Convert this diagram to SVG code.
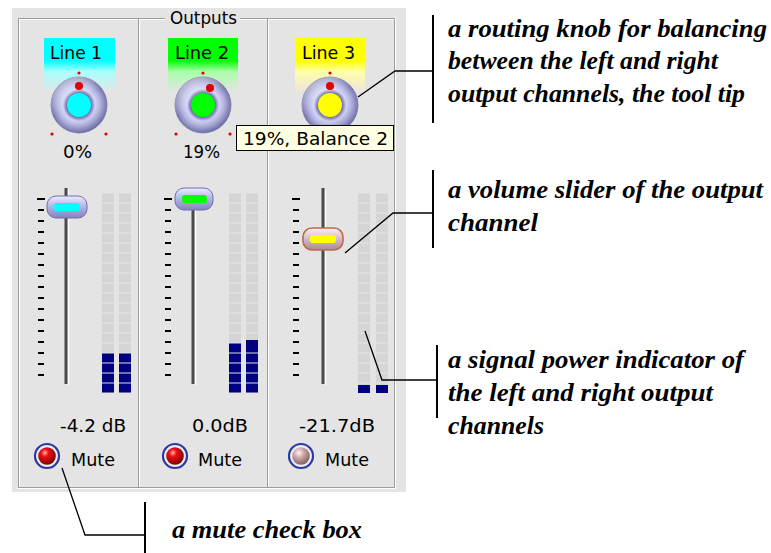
<svg xmlns="http://www.w3.org/2000/svg" width="771" height="553" viewBox="0 0 771 553">
<defs>
<style>
.ui{font-family:"DejaVu Sans","Liberation Sans",sans-serif;font-size:18px;fill:#000}
.ann{font-family:"Liberation Serif","DejaVu Serif",serif;font-weight:bold;font-style:italic;font-size:26px;fill:#000}
.etchD{stroke:#9c9c9c;stroke-width:1;fill:none}
.etchL{stroke:#ffffff;stroke-width:1;fill:none}
.tick{stroke:#000;stroke-width:2}
.cell{fill:#d5d5d5}
.lit{fill:#000080}
.dot{fill:#e00000}
.conn{stroke:#000;stroke-width:1.3;fill:none}
.bar{stroke:#000;stroke-width:2;fill:none}
.track{fill:#4a4a4a}
.trackL{stroke:#fff;stroke-width:1.2}
.ring{fill:url(#ring);stroke:#7676aa;stroke-width:0.8}
.sheen{fill:url(#sheen)}
</style>
<radialGradient id="ring" cx="0.5" cy="0.5" r="0.5">
<stop offset="0" stop-color="#5a5a98"/>
<stop offset="0.44" stop-color="#6a6aa6"/>
<stop offset="0.58" stop-color="#d4d4f8"/>
<stop offset="0.76" stop-color="#b2b2e2"/>
<stop offset="1" stop-color="#7070a6"/>
</radialGradient>
<linearGradient id="sheen" x1="0.2" y1="0" x2="0.8" y2="1">
<stop offset="0" stop-color="#ffffff" stop-opacity="0.55"/>
<stop offset="0.45" stop-color="#ffffff" stop-opacity="0"/>
<stop offset="1" stop-color="#303070" stop-opacity="0.25"/>
</linearGradient>
<linearGradient id="thumb" x1="0" y1="0" x2="0" y2="1">
<stop offset="0" stop-color="#ececff"/>
<stop offset="0.4" stop-color="#bcbcea"/>
<stop offset="1" stop-color="#8282c0"/>
</linearGradient>
<linearGradient id="thumbH" x1="0" y1="0" x2="0" y2="1">
<stop offset="0" stop-color="#fff0ec"/>
<stop offset="0.45" stop-color="#d8c0d0"/>
<stop offset="1" stop-color="#a88898"/>
</linearGradient>
<radialGradient id="ballR" cx="0.38" cy="0.32" r="0.7">
<stop offset="0" stop-color="#ffb0b0"/>
<stop offset="0.3" stop-color="#f01010"/>
<stop offset="1" stop-color="#780000"/>
</radialGradient>
<radialGradient id="ballP" cx="0.38" cy="0.32" r="0.7">
<stop offset="0" stop-color="#fff4f4"/>
<stop offset="0.4" stop-color="#d0a8a8"/>
<stop offset="1" stop-color="#806060"/>
</radialGradient>
<linearGradient id="gCyan" x1="0" y1="0" x2="0" y2="1">
<stop offset="0" stop-color="#00ffff"/>
<stop offset="0.42" stop-color="#00ffff"/>
<stop offset="0.62" stop-color="#a8ffff"/>
<stop offset="1" stop-color="#e4e4e4"/>
</linearGradient>
<linearGradient id="gGreen" x1="0" y1="0" x2="0" y2="1">
<stop offset="0" stop-color="#00ff00"/>
<stop offset="0.42" stop-color="#00ff00"/>
<stop offset="0.62" stop-color="#a8ffa8"/>
<stop offset="1" stop-color="#e4e4e4"/>
</linearGradient>
<linearGradient id="gYellow" x1="0" y1="0" x2="0" y2="1">
<stop offset="0" stop-color="#ffff00"/>
<stop offset="0.42" stop-color="#ffff00"/>
<stop offset="0.62" stop-color="#ffffa8"/>
<stop offset="1" stop-color="#ece4dc"/>
</linearGradient>
<g id="ticks">
<line class="tick" x1="-1" y1="199" x2="7" y2="199"/>
<line class="tick" x1="0" y1="210" x2="6" y2="210"/>
<line class="tick" x1="0" y1="221" x2="6" y2="221"/>
<line class="tick" x1="0" y1="232" x2="6" y2="232"/>
<line class="tick" x1="0" y1="243" x2="6" y2="243"/>
<line class="tick" x1="0" y1="254" x2="6" y2="254"/>
<line class="tick" x1="0" y1="265" x2="6" y2="265"/>
<line class="tick" x1="0" y1="276" x2="6" y2="276"/>
<line class="tick" x1="0" y1="287" x2="6" y2="287"/>
<line class="tick" x1="0" y1="298" x2="6" y2="298"/>
<line class="tick" x1="0" y1="309" x2="6" y2="309"/>
<line class="tick" x1="0" y1="320" x2="6" y2="320"/>
<line class="tick" x1="0" y1="331" x2="6" y2="331"/>
<line class="tick" x1="0" y1="342" x2="6" y2="342"/>
<line class="tick" x1="0" y1="353" x2="6" y2="353"/>
<line class="tick" x1="0" y1="364" x2="6" y2="364"/>
<line class="tick" x1="0" y1="375" x2="6" y2="375"/>
</g>
<g id="cells">
<rect class="cell" x="0" y="193.5" width="12" height="9"/>
<rect class="cell" x="0" y="203.5" width="12" height="9"/>
<rect class="cell" x="0" y="213.5" width="12" height="9"/>
<rect class="cell" x="0" y="223.5" width="12" height="9"/>
<rect class="cell" x="0" y="233.5" width="12" height="9"/>
<rect class="cell" x="0" y="243.5" width="12" height="9"/>
<rect class="cell" x="0" y="253.5" width="12" height="9"/>
<rect class="cell" x="0" y="263.5" width="12" height="9"/>
<rect class="cell" x="0" y="273.5" width="12" height="9"/>
<rect class="cell" x="0" y="283.5" width="12" height="9"/>
<rect class="cell" x="0" y="293.5" width="12" height="9"/>
<rect class="cell" x="0" y="303.5" width="12" height="9"/>
<rect class="cell" x="0" y="313.5" width="12" height="9"/>
<rect class="cell" x="0" y="323.5" width="12" height="9"/>
<rect class="cell" x="0" y="333.5" width="12" height="9"/>
<rect class="cell" x="0" y="343.5" width="12" height="9"/>
<rect class="cell" x="0" y="353.5" width="12" height="9"/>
<rect class="cell" x="0" y="363.5" width="12" height="9"/>
<rect class="cell" x="0" y="373.5" width="12" height="9"/>
<rect class="cell" x="0" y="383.5" width="12" height="9"/>
</g>
</defs>

<rect width="771" height="553" fill="#ffffff"/>

<g id="panel">
<rect x="12" y="8" width="394" height="484" fill="#e4e4e4"/>
<path class="etchD" d="M165 18.5 H18.5 V487.5 H394.5 V18.5 H240"/>
<path class="etchL" d="M165 19.5 H19.5 V486.5 M17.5 488.5 H395.5 V17.5 M240 19.5 H393.5"/>
<line class="etchD" x1="138.5" y1="19" x2="138.5" y2="487"/>
<line class="etchL" x1="139.5" y1="19" x2="139.5" y2="487"/>
<line class="etchD" x1="267.5" y1="19" x2="267.5" y2="487"/>
<line class="etchL" x1="268.5" y1="19" x2="268.5" y2="487"/>
<text class="ui" x="170" y="24" textLength="67" lengthAdjust="spacingAndGlyphs">Outputs</text>
</g>

<g id="channel1">
<rect x="44" y="38" width="71" height="54" fill="url(#gCyan)"/>
<text class="ui" x="50" y="59" textLength="52" lengthAdjust="spacingAndGlyphs">Line 1</text>
<circle class="ring" cx="79" cy="105" r="28"/>
<circle class="sheen" cx="79" cy="105" r="28"/>
<circle cx="79" cy="105" r="12" fill="#00ffff"/>
<circle class="dot" cx="79" cy="86" r="4"/>
<circle class="dot" cx="79" cy="73" r="1.6"/>
<circle class="dot" cx="52" cy="134" r="1.6"/>
<circle class="dot" cx="106" cy="134" r="1.6"/>
<text class="ui" x="63" y="158" textLength="29" lengthAdjust="spacingAndGlyphs">0%</text>
<use href="#ticks" x="38"/>
<rect class="track" x="64.5" y="188" width="3" height="196"/>
<line class="trackL" x1="68.6" y1="190" x2="68.6" y2="385"/>
<rect x="47" y="196" width="40" height="22" rx="9" fill="url(#thumb)" stroke="#7070a8" stroke-width="1"/>
<rect x="54" y="203" width="26" height="8" rx="3" fill="#00ffff"/>
<use href="#cells" x="102"/>
<use href="#cells" x="119"/>
<rect class="lit" x="102" y="353.5" width="12" height="9"/>
<rect class="lit" x="102" y="363.5" width="12" height="9"/>
<rect class="lit" x="102" y="373.5" width="12" height="9"/>
<rect class="lit" x="102" y="383.5" width="12" height="9"/>
<rect class="lit" x="119" y="353.5" width="12" height="9"/>
<rect class="lit" x="119" y="363.5" width="12" height="9"/>
<rect class="lit" x="119" y="373.5" width="12" height="9"/>
<rect class="lit" x="119" y="383.5" width="12" height="9"/>
<text class="ui" x="60" y="432" textLength="66" lengthAdjust="spacingAndGlyphs">-4.2 dB</text>
<circle cx="47" cy="456" r="12" fill="#ececf6" stroke="#2a3aa0" stroke-width="2.2"/>
<circle cx="47" cy="456" r="8.8" fill="url(#ballR)"/>
<text class="ui" x="71" y="466" textLength="44" lengthAdjust="spacingAndGlyphs">Mute</text>
</g>

<g id="channel2">
<rect x="168" y="38" width="70" height="54" fill="url(#gGreen)"/>
<text class="ui" x="175" y="59" textLength="54" lengthAdjust="spacingAndGlyphs">Line 2</text>
<circle class="ring" cx="203" cy="105" r="28"/>
<circle class="sheen" cx="203" cy="105" r="28"/>
<circle cx="203" cy="105" r="12" fill="#00ff00"/>
<circle class="dot" cx="210" cy="88" r="4"/>
<circle class="dot" cx="203" cy="73" r="1.6"/>
<circle class="dot" cx="176" cy="134" r="1.6"/>
<circle class="dot" cx="230" cy="134" r="1.6"/>
<text class="ui" x="183" y="158" textLength="37" lengthAdjust="spacingAndGlyphs">19%</text>
<use href="#ticks" x="165"/>
<rect class="track" x="191.5" y="188" width="3" height="196"/>
<line class="trackL" x1="195.6" y1="190" x2="195.6" y2="385"/>
<rect x="175" y="188" width="38" height="22" rx="9" fill="url(#thumb)" stroke="#7070a8" stroke-width="1"/>
<rect x="182" y="195" width="25" height="8" rx="3" fill="#00ff00"/>
<use href="#cells" x="229"/>
<use href="#cells" x="246"/>
<rect class="lit" x="229" y="343.5" width="12" height="9"/>
<rect class="lit" x="229" y="353.5" width="12" height="9"/>
<rect class="lit" x="229" y="363.5" width="12" height="9"/>
<rect class="lit" x="229" y="373.5" width="12" height="9"/>
<rect class="lit" x="229" y="383.5" width="12" height="9"/>
<rect class="lit" x="246" y="340" width="12" height="12.5"/>
<rect class="lit" x="246" y="353.5" width="12" height="9"/>
<rect class="lit" x="246" y="363.5" width="12" height="9"/>
<rect class="lit" x="246" y="373.5" width="12" height="9"/>
<rect class="lit" x="246" y="383.5" width="12" height="9"/>
<text class="ui" x="192" y="432" textLength="56" lengthAdjust="spacingAndGlyphs">0.0dB</text>
<circle cx="175" cy="456" r="12" fill="#ececf6" stroke="#2a3aa0" stroke-width="2.2"/>
<circle cx="175" cy="456" r="8.8" fill="url(#ballR)"/>
<text class="ui" x="198" y="466" textLength="44" lengthAdjust="spacingAndGlyphs">Mute</text>
</g>

<g id="channel3">
<rect x="295" y="38" width="70" height="54" fill="url(#gYellow)"/>
<text class="ui" x="302" y="59" textLength="53" lengthAdjust="spacingAndGlyphs">Line 3</text>
<circle class="ring" cx="330" cy="105" r="28"/>
<circle class="sheen" cx="330" cy="105" r="28"/>
<circle cx="330" cy="105" r="12" fill="#ffff00"/>
<circle class="dot" cx="330" cy="86" r="4"/>
<circle class="dot" cx="330" cy="73" r="1.6"/>
<use href="#ticks" x="293"/>
<rect class="track" x="321.5" y="188" width="3" height="196"/>
<line class="trackL" x1="325.6" y1="190" x2="325.6" y2="385"/>
<rect x="303" y="228" width="40" height="22" rx="9" fill="url(#thumbH)" stroke="#c06848" stroke-width="1.6"/>
<rect x="310" y="235" width="26" height="8" rx="3" fill="#ffff00"/>
<use href="#cells" x="358"/>
<use href="#cells" x="376"/>
<rect class="lit" x="358" y="385" width="12" height="8"/>
<rect class="lit" x="376" y="385" width="12" height="8"/>
<text class="ui" x="299" y="432" textLength="76" lengthAdjust="spacingAndGlyphs">-21.7dB</text>
<circle cx="301" cy="456" r="12" fill="#ececf6" stroke="#2a3aa0" stroke-width="2.2"/>
<circle cx="301" cy="456" r="8.8" fill="url(#ballP)"/>
<text class="ui" x="325" y="466" textLength="44" lengthAdjust="spacingAndGlyphs">Mute</text>
</g>

<g id="tooltip">
<rect x="236.5" y="125.5" width="157" height="25" fill="#ffffe1" stroke="#000" stroke-width="1"/>
<text class="ui" x="243" y="145" textLength="145" lengthAdjust="spacingAndGlyphs">19%, Balance 2</text>
</g>

<g id="connectors">
<polyline class="conn" points="358,97 395,71 433,71"/>
<line class="bar" x1="433" y1="15" x2="433" y2="123"/>
<polyline class="conn" points="345,253 393,213 433,213"/>
<line class="bar" x1="433" y1="170" x2="433" y2="248"/>
<polyline class="conn" points="365,331 382,380 437,380"/>
<line class="bar" x1="437" y1="345" x2="437" y2="418"/>
<polyline class="conn" points="62,468 85,535 145,535"/>
<line class="bar" x1="145" y1="502" x2="145" y2="553"/>
</g>

<g id="note-knob">
<text class="ann" x="448" y="37" textLength="319" lengthAdjust="spacingAndGlyphs">a routing knob for balancing</text>
<text class="ann" x="448" y="69" textLength="270" lengthAdjust="spacingAndGlyphs">between the left and right</text>
<text class="ann" x="448" y="102" textLength="297" lengthAdjust="spacingAndGlyphs">output channels, the tool tip</text>
</g>
<g id="note-slider">
<text class="ann" x="448" y="198" textLength="315" lengthAdjust="spacingAndGlyphs">a volume slider of the output</text>
<text class="ann" x="448" y="231" textLength="90" lengthAdjust="spacingAndGlyphs">channel</text>
</g>
<g id="note-meter">
<text class="ann" x="448" y="368" textLength="296" lengthAdjust="spacingAndGlyphs">a signal power indicator of</text>
<text class="ann" x="448" y="401" textLength="265" lengthAdjust="spacingAndGlyphs">the left and right output</text>
<text class="ann" x="448" y="434" textLength="96" lengthAdjust="spacingAndGlyphs">channels</text>
</g>
<g id="note-mute">
<text class="ann" x="172" y="538" textLength="190" lengthAdjust="spacingAndGlyphs">a mute check box</text>
</g>
</svg>
